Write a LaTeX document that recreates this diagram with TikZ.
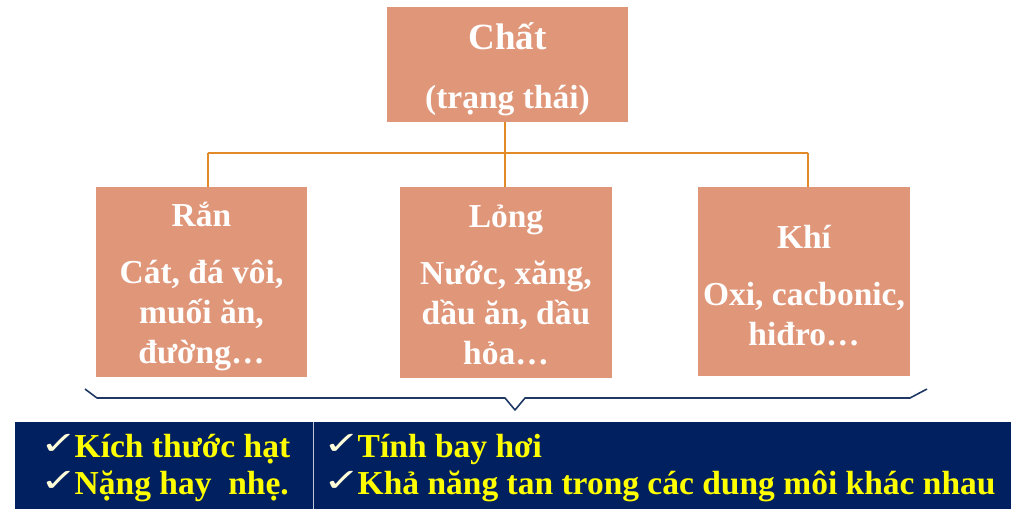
\documentclass[tikz,border=0pt]{standalone}
\usepackage{fontspec}
\setmainfont{Liberation Serif}
\newfontfamily\symfont{DejaVu Sans}
\usetikzlibrary{positioning}

\definecolor{boxsalmon}{RGB}{224,150,120}
\definecolor{linkorange}{RGB}{226,138,40}
\definecolor{bandnavy}{RGB}{0,32,96}
\definecolor{bracenavy}{RGB}{31,56,100}
\definecolor{textyellow}{RGB}{255,255,0}

\tikzset{
    statebox/.style={fill=boxsalmon, inner sep=0pt},
    statetext/.style={text=white, align=center, inner sep=0pt,
        font=\bfseries\fontsize{33.5}{40}\selectfont},
    link/.style={draw=linkorange, line width=1.8pt},
    bandbox/.style={fill=bandnavy, anchor=north west, inner sep=0pt},
    bandtext/.style={text=textyellow, align=left, anchor=base west, inner sep=0pt,
        font=\bfseries\fontsize{33.5}{40}\selectfont},
}
\newcommand{\tick}{\raisebox{3pt}{\scalebox{1.4}[1]{\color{white!85!yellow}\symfont\fontsize{32}{32}\selectfont ✓}}\hspace{-3pt}}

\begin{document}
\begin{tikzpicture}[x=1pt, y=-1pt]
    \useasboundingbox (0,0) rectangle (1024,527);

    % state boxes
    \node[statebox, minimum width=241pt, minimum height=115pt] (chat) at (507.5,64.5) {};
    \node[statebox, minimum width=211pt, minimum height=190pt] (ran) at (201.5,282) {};
    \node[statebox, minimum width=212pt, minimum height=191pt] (long) at (506,282.5) {};
    \node[statebox, minimum width=212pt, minimum height=189pt] (khi) at (804,281.5) {};

    \node[statetext, yshift=-5pt] (chatT) at (chat.center)
        {\fontsize{37}{40}\selectfont Chất\\[19pt](trạng thái)};
    \node[statetext, yshift=-5pt] (ranT) at (ran.center)
        {Rắn\\[17pt]Cát, đá vôi,\\muối ăn,\\đường…};
    \node[statetext, yshift=-2pt] (longT) at (long.center)
        {Lỏng\\[17pt]Nước, xăng,\\dầu ăn, dầu\\hỏa…};
    \node[statetext, yshift=-4pt] (khiT) at (khi.center)
        {Khí\\[17pt]Oxi, cacbonic,\\hiđro…};

    % connectors
    \coordinate (busL) at (208,153);
    \coordinate (busR) at (808,153);
    \draw[link] (busL) -- (busR);
    \draw[link] (chat.south -| 505,0) -- (long.north -| 505,0);
    \draw[link] (busL) -- (busL |- ran.north);
    \draw[link] (busR) -- (busR |- khi.north);

    % brace
    \draw[bracenavy, line width=1.6pt, line join=round]
        (85,389) -- (97,398) -- (505,398) -- (515,410) -- (525,398) -- (910,398) -- (927,389);

    % properties band
    \node[bandbox, minimum width=298pt, minimum height=87pt] (bandL) at (15,422) {};
    \node[bandbox, minimum width=698pt, minimum height=87pt] (bandR) at (313,422) {};
    \draw[white!75!bandnavy, line width=0.8pt] (bandR.north west) -- (bandR.south west);

    \node[bandtext] (sizeT) at (40,457) {\tick Kích thước hạt};
    \node[bandtext] (massT) at (40,494) {\tick Nặng hay~ nhẹ.};
    \node[bandtext] (volT) at (323,457) {\tick Tính bay hơi};
    \node[bandtext] (solT) at (323,494) {\tick Khả năng tan trong các dung môi khác nhau};
\end{tikzpicture}
\end{document}
